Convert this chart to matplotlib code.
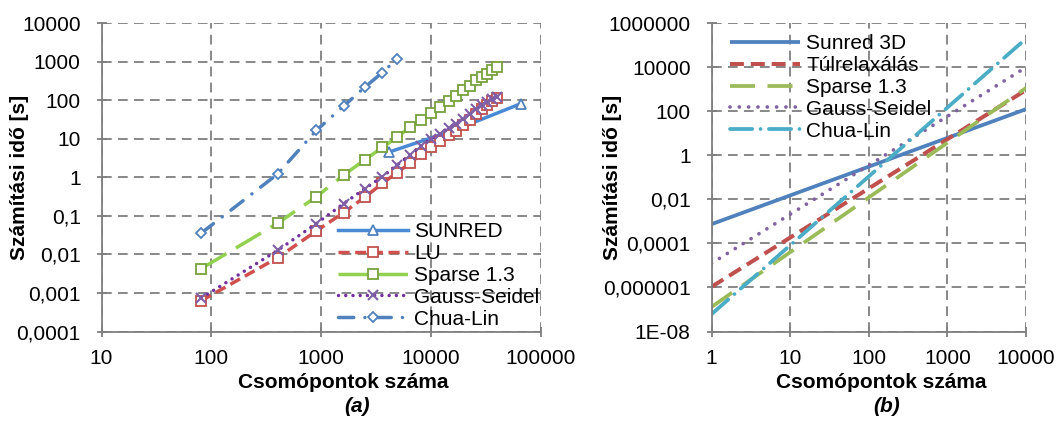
import matplotlib
matplotlib.use("Agg")
import matplotlib.pyplot as plt
from matplotlib.ticker import FixedLocator, FixedFormatter, NullLocator

plt.rcParams['font.family'] = ['Liberation Sans', 'DejaVu Sans']
plt.rcParams['lines.scale_dashes'] = False

# ---------------- data: chart (a) ----------------
sunred_x = [4096, 16384, 65536]
sunred_y = [4.5, 17, 82]

grid_x = [81, 400, 900, 1600, 2500, 3600, 4900, 6400, 8100, 10000, 12100,
          14400, 16900, 19600, 22500, 25600, 28900, 32400, 36100, 40000]
lu_y = [0.00063, 0.0082, 0.0405, 0.122, 0.31, 0.695, 1.34, 2.3, 4.0, 6.3,
        9.0, 12.5, 15.8, 23.6, 31, 45, 60, 77, 95, 117]
gauss_y = [0.00074, 0.0127, 0.063, 0.209, 0.514, 1.04, 2.1, 3.8, 6.5, 10,
           13.5, 18.9, 24.5, 33, 45, 60, 74, 90, 106, 122]
sparse_y = [0.0043, 0.0645, 0.312, 1.15, 2.88, 6.0, 11, 20, 31.8, 46.5,
            67, 94, 127, 182, 235, 332, 405, 497, 603, 738]

chua_x = [81, 400, 900, 1600, 2500, 3600, 4900]
chua_y = [0.036, 1.22, 16.5, 71, 222, 527, 1180]

a_xticks = [10, 100, 1000, 10000, 100000]
a_xlabels = ["10", "100", "1000", "10000", "100000"]
a_yticks = [1e-4, 1e-3, 1e-2, 1e-1, 1, 10, 100, 1000, 10000]
a_ylabels = ["0,0001", "0,001", "0,01", "0,1", "1", "10", "100", "1000", "10000"]

# ---------------- data: chart (b) ----------------
b_x = [1, 10000]
b_sunred = [7.5e-4, 126]
b_tulrelax = [1.07e-6, 930]
b_sparse = [1.3e-7, 1150]
b_gauss = [1.25e-5, 1e4]
b_chua = [6.1e-8, 2e5]

b_xticks = [1, 10, 100, 1000, 10000]
b_xlabels = ["1", "10", "100", "1000", "10000"]
b_yticks = [1e-8, 1e-6, 1e-4, 1e-2, 1, 100, 1e4, 1e6]
b_ylabels = ["1E-08", "0,000001", "0,0001", "0,01", "1", "100", "10000", "1000000"]

# ---------------- figure ----------------
W, H = 1059, 421
fig = plt.figure(figsize=(W / 100, H / 100), dpi=100)

def px_axes(x0, x1, ytop, ybot):
    return fig.add_axes([x0 / W, 1 - ybot / H, (x1 - x0) / W, (ybot - ytop) / H])

axA = px_axes(101.5, 541, 23.3, 331.5)
axB = px_axes(711.5, 1026, 23.3, 331.5)

GRID = '#7F7F7F'
FS = 15

def style(ax, xt, xl, yt, yl):
    ax.set_xscale('log')
    ax.set_yscale('log')
    ax.set_xlim(xt[0], xt[-1])
    ax.set_ylim(yt[0], yt[-1])
    ax.xaxis.set_major_locator(FixedLocator(xt))
    ax.xaxis.set_major_formatter(FixedFormatter(xl))
    ax.yaxis.set_major_locator(FixedLocator(yt))
    ax.yaxis.set_major_formatter(FixedFormatter(yl))
    ax.xaxis.set_minor_locator(NullLocator())
    ax.yaxis.set_minor_locator(NullLocator())
    for s in ['top', 'right']:
        ax.spines[s].set_visible(False)
    for s in ['left', 'bottom']:
        ax.spines[s].set_color(GRID)
        ax.spines[s].set_linewidth(1.3)
    ax.grid(True, color=GRID, linestyle=(0, (7, 4.5)), linewidth=1.3)
    ax.set_axisbelow(True)
    ax.tick_params(axis='both', which='major', direction='inout', length=7,
                   width=1.3, color=GRID, labelsize=FS)
    ax.tick_params(axis='x', pad=9)
    ax.tick_params(axis='y', pad=11.5)
    ax.set_xlabel("Csomópontok száma", fontsize=FS, fontweight='bold')
    ax.set_ylabel("Számítási idő [s]", fontsize=FS, fontweight='bold')
    ax.set_facecolor('none')

style(axA, a_xticks, a_xlabels, a_yticks, a_ylabels)
style(axB, b_xticks, b_xlabels, b_yticks, b_ylabels)

# ---- chart (a) series ----
axA.plot(sunred_x, sunred_y, color='#4A8AD4', lw=2.5, marker='^', ms=7,
         mfc='white', mec='#4F81BD', mew=1.3, label='SUNRED', zorder=3)
axA.plot(grid_x, lu_y, color='#D0504D', lw=2.5, linestyle=(0, (8, 4)),
         marker='s', ms=7, mfc='white', mec='#C0504D', mew=1.3, label='LU', zorder=3)
axA.plot(grid_x, sparse_y, color='#92D050', lw=2.5, linestyle=(0, (21, 8)),
         marker='s', ms=7, mfc='white', mec='#77A03C', mew=1.3, label='Sparse 1.3', zorder=3)
axA.plot(grid_x, gauss_y, color='#7030A0', lw=2.5, linestyle=(0, (0.01, 5.2)),
         dash_capstyle='round', marker='x', ms=7, mec='#7F5FA6', mew=1.5,
         label='Gauss-Seidel', zorder=3)
axA.plot(chua_x, chua_y, color='#4F81BD', lw=2.5, linestyle=(0, (11, 8, 0.01, 8)),
         dash_capstyle='round', marker='D', ms=5.5, mfc='white', mec='#4F81BD', mew=1.3,
         label='Chua-Lin', zorder=3)

axA.legend(loc='upper left', bbox_to_anchor=(338 / W, 1 - 222 / H),
           bbox_transform=fig.transFigure, frameon=False, fontsize=FS,
           borderpad=0, borderaxespad=0, handlelength=3.35, handletextpad=0.3,
           labelspacing=0.14, numpoints=1)

# ---- chart (b) series ----
axB.plot(b_x, b_sunred, color='#4F81BD', lw=2.7, solid_capstyle='butt', label='Sunred 3D')
axB.plot(b_x, b_tulrelax, color='#C0504D', lw=2.9, linestyle=(0, (10, 5)),
         label='Túlrelaxálás')
axB.plot(b_x, b_sparse, color='#9BBB59', lw=2.7, linestyle=(0, (18, 9)),
         label='Sparse 1.3')
axB.plot(b_x, b_gauss, color='#8064A2', lw=2.7, linestyle=(0, (0.01, 6.7)),
         dash_capstyle='round', label='Gauss-Seidel')
axB.plot(b_x, b_chua, color='#4BACC6', lw=2.7, linestyle=(0, (16, 6, 0.01, 6)),
         dash_capstyle='round', label='Chua-Lin')

axB.legend(loc='upper left', bbox_to_anchor=(730 / W, 1 - 34 / H),
           bbox_transform=fig.transFigure, frameon=False, fontsize=FS,
           borderpad=0, borderaxespad=0, handlelength=3.35, handletextpad=0.3,
           labelspacing=0.14)

# label positions
axA.yaxis.set_label_coords((20 - 101.5) / 439.5, 0.5)
axB.yaxis.set_label_coords((613 - 711.5) / 314.5, 0.5)
axA.xaxis.set_label_coords((343 - 101.5) / 439.5, (331.5 - 383) / 308.2)
axB.xaxis.set_label_coords((881 - 711.5) / 314.5, (331.5 - 383) / 308.2)
axA.xaxis.label.set_va('center')
axB.xaxis.label.set_va('center')
axA.yaxis.label.set_va('center')
axB.yaxis.label.set_va('center')

fig.text(357 / W, 1 - 406 / H, "(a)", fontsize=FS, fontweight='bold',
         fontstyle='italic', ha='center', va='center')
fig.text(887 / W, 1 - 406 / H, "(b)", fontsize=FS, fontweight='bold',
         fontstyle='italic', ha='center', va='center')

fig.savefig("out.png", dpi=100)
